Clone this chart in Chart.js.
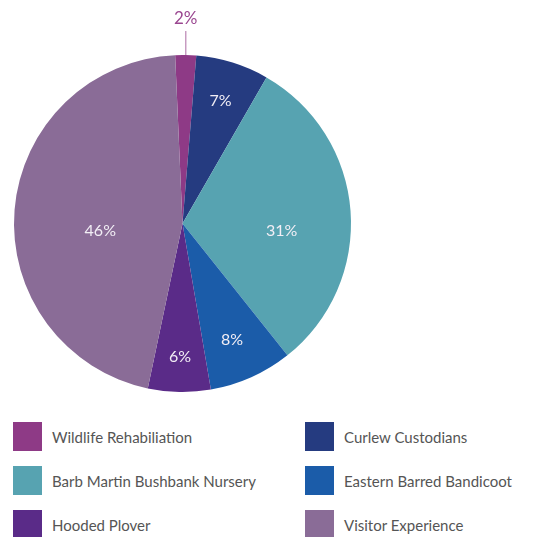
<!DOCTYPE html>
<html>
<head>
<meta charset="utf-8">
<script src="https://cdn.jsdelivr.net/npm/chart.js@4"></script>
<style>
  html, body { margin: 0; padding: 0; background: #fff; }
  body { width: 533px; height: 537px; position: relative; overflow: hidden; font-family: Lato, "Open Sans", sans-serif; }
  #wrap { position: absolute; left: 0; top: 0; width: 365px; height: 410px; }
  .legend { position: absolute; left: 0; top: 0; width: 533px; }
  .item { position: absolute; display: flex; align-items: center; font-size: 15px; color: #555; }
  .item span.box { width: 29px; height: 29px; margin-right: 10px; display: inline-block; }
</style>
</head>
<body>
<div id="wrap"><canvas id="pie"></canvas></div>
<div class="legend" id="legend"></div>
<script>
const labels = [
  "Wildlife Rehabiliation",
  "Curlew Custodians",
  "Barb Martin Bushbank Nursery",
  "Eastern Barred Bandicoot",
  "Hooded Plover",
  "Visitor Experience",
];
const values = [2, 7, 31, 8, 6, 46];
const colors = ["#8e3a86", "#253b80", "#57a3b1", "#1b5ca9", "#5a2b88", "#8a6c97"];

// label placement: fraction of the radius, and a small turn (degrees) off the slice middle
const labelPos = [0, 0.76, 0.59, 0.75, 0.79, 0.49];
const labelTurn = [0, 0, 8.6, 1, 0, -9.9];

const sliceLabels = {
  id: "sliceLabels",
  afterDatasetsDraw(chart) {
    const ctx = chart.ctx;
    const meta = chart.getDatasetMeta(0);
    ctx.save();
    ctx.textAlign = "center";
    ctx.textBaseline = "middle";
    meta.data.forEach((arc, i) => {
      const p = arc.getProps(["x", "y", "startAngle", "endAngle", "outerRadius"], true);
      const mid = (p.startAngle + p.endAngle) / 2 + labelTurn[i] * Math.PI / 180;
      const txt = values[i] + "%";
      if (i === 0) {
        // small slice: label above with a leader line
        const lx = p.x + Math.cos(mid) * p.outerRadius;
        const ly = p.y + Math.sin(mid) * p.outerRadius;
        ctx.strokeStyle = "#c79bc1";
        ctx.lineWidth = 1.5;
        ctx.beginPath();
        ctx.moveTo(lx, ly);
        ctx.lineTo(lx, ly - 24);
        ctx.stroke();
        ctx.fillStyle = "#9a4690";
        ctx.font = "17px Lato, 'Open Sans', sans-serif";
        ctx.fillText(txt, lx, ly - 37);
        return;
      }
      const r = p.outerRadius * labelPos[i];
      ctx.font = "16px Lato, 'Open Sans', sans-serif";
      ctx.fillStyle = "#f2eef5";
      ctx.fillText(txt, p.x + Math.cos(mid) * r, p.y + Math.sin(mid) * r);
    });
    ctx.restore();
  },
};

new Chart(document.getElementById("pie"), {
  type: "pie",
  data: {
    labels: labels,
    datasets: [{ data: values, backgroundColor: colors, borderWidth: 0 }],
  },
  options: {
    responsive: true,
    maintainAspectRatio: false,
    animation: false,
    rotation: -2.5,
    layout: { padding: { left: 14, right: 14, top: 55, bottom: 18 } },
    plugins: { legend: { display: false }, tooltip: { enabled: false } },
  },
  plugins: [sliceLabels],
});

// legend, two columns
const legend = document.getElementById("legend");
labels.forEach((name, i) => {
  const el = document.createElement("div");
  el.className = "item";
  el.style.left = (i % 2 === 0 ? 13 : 305) + "px";
  el.style.top = (422 + Math.floor(i / 2) * 44) + "px";
  el.innerHTML = '<span class="box" style="background:' + colors[i] + '"></span>' + name;
  legend.appendChild(el);
});
</script>
</body>
</html>
